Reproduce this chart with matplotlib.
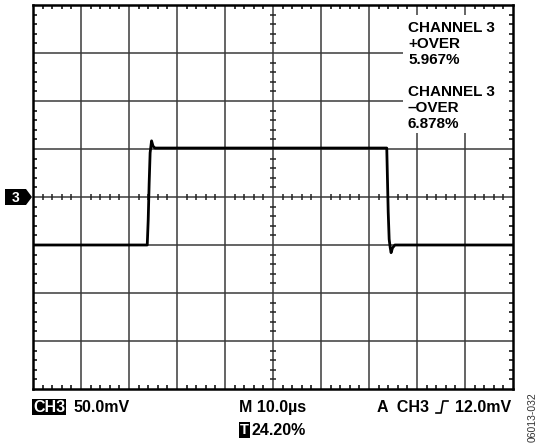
import numpy as np
from matplotlib import pyplot as plt
from matplotlib.patches import Polygon, Rectangle
from matplotlib.lines import Line2D

# trace, in scope divisions (10 x 8 grid, centre = 0)
t = [0.0, 2.38, 2.40, 2.42, 2.44, 2.47, 2.50, 2.54, 7.37, 7.40, 7.42, 7.44, 7.46, 7.49, 7.54, 10.0]
v = [-1.0, -1.0, -0.48, 0.29, 0.92, 1.17, 1.06, 1.02, 1.02, -0.31, -0.88, -1.04, -1.16, -1.06, -1.0, -1.0]

over_labels = ["CHANNEL 3", "+OVER", "5.967%", "CHANNEL 3", "\u2013OVER", "6.878%"]
ch_label = "CH3"
volts_div = "50.0mV"
time_div = "M 10.0\u00b5s"
trig_pos = "24.20%"
trig_src = "A  CH3"
trig_level = "12.0mV"
fig_id = "06013-032"

W, H = 539, 444
fig = plt.figure(figsize=(W / 100, H / 100), dpi=100)
ax = fig.add_axes([33 / W, 55 / H, 480 / W, 384 / H])
ax.set_xlim(0, 10)
ax.set_ylim(-4, 4)

def px(x, y):
    return x / W, 1 - y / H

font = dict(family="Liberation Sans", weight="bold")

# grid
for gx in range(1, 10):
    ax.axvline(gx, color="#3a3a3a", lw=1.1, zorder=1)
for gy in range(-3, 4):
    ax.axhline(gy, color="#3a3a3a", lw=1.1, zorder=1)

for s in ax.spines.values():
    s.set_linewidth(1.8)

# border ticks
minor = [m for m in np.arange(0, 10.01, 0.2) if abs(m - round(m)) > 0.01]
minor_y = [m for m in np.arange(-4, 4.01, 0.2) if abs(m - round(m)) > 0.01]
ax.set_xticks([])
ax.set_yticks([])
ax.set_xticks(minor, minor=True)
ax.set_yticks(minor_y, minor=True)
ax.tick_params(which="minor", direction="in", length=3, width=1.1,
               top=True, bottom=True, left=True, right=True,
               labelbottom=False, labelleft=False)

# centre cross ticks
ax.plot(minor, [0] * len(minor), ls="none", marker="|", ms=5, mew=1.1, color="#222222", zorder=2)
ax.plot([5] * len(minor_y), minor_y, ls="none", marker="_", ms=5, mew=1.1, color="#222222", zorder=2)

# white area behind readout text
ax.add_patch(Rectangle((7.71, 1.33), 2.21, 2.46, facecolor="white", edgecolor="none", zorder=3))

ax.plot(t, v, color="black", lw=2, zorder=4, solid_joinstyle="round")

label_y = [28, 44, 60, 92, 108, 124]
for txt, ly in zip(over_labels, label_y):
    fig.text(*px(408, ly), txt, fontsize=11, va="center", ha="left", zorder=5, **font)

# channel marker
fig.patches.append(Polygon([px(5, 189), px(26, 189), px(32, 197), px(26, 205), px(5, 205)],
                           closed=True, facecolor="black", transform=fig.transFigure))
fig.text(*px(16, 197.5), "3", color="white", fontsize=10, ha="center", va="center", **font)

# bottom readouts
fig.text(*px(33, 407), ch_label, color="white", fontsize=11.5, ha="left", va="center",
         bbox=dict(boxstyle="square,pad=0.06", facecolor="black", edgecolor="none"), **font)
fig.text(*px(74, 407), volts_div, fontsize=11.5, ha="left", va="center", **font)
fig.text(*px(239, 407), time_div, fontsize=11.5, ha="left", va="center", **font)
fig.text(*px(240, 430), "T", color="white", fontsize=10.5, ha="left", va="center",
         bbox=dict(boxstyle="square,pad=0.1", facecolor="black", edgecolor="none"), **font)
fig.text(*px(251, 430), trig_pos, fontsize=11.5, ha="left", va="center", **font)
fig.text(*px(377, 407), trig_src, fontsize=11.5, ha="left", va="center", **font)
fig.text(*px(455, 407), trig_level, fontsize=11.5, ha="left", va="center", **font)

# rising-edge trigger symbol
sx = [436, 441, 443, 448]
sy = [413, 413, 401, 401]
fig.lines.append(Line2D([a / W for a in sx], [1 - b / H for b in sy], color="black", lw=1.2,
                        transform=fig.transFigure))

fig.text(*px(533, 417), fig_id, fontsize=7.5, rotation=90, ha="center", va="center",
         color="#333333", family="Liberation Sans")

fig.savefig("out.png", dpi=100, facecolor="white")
